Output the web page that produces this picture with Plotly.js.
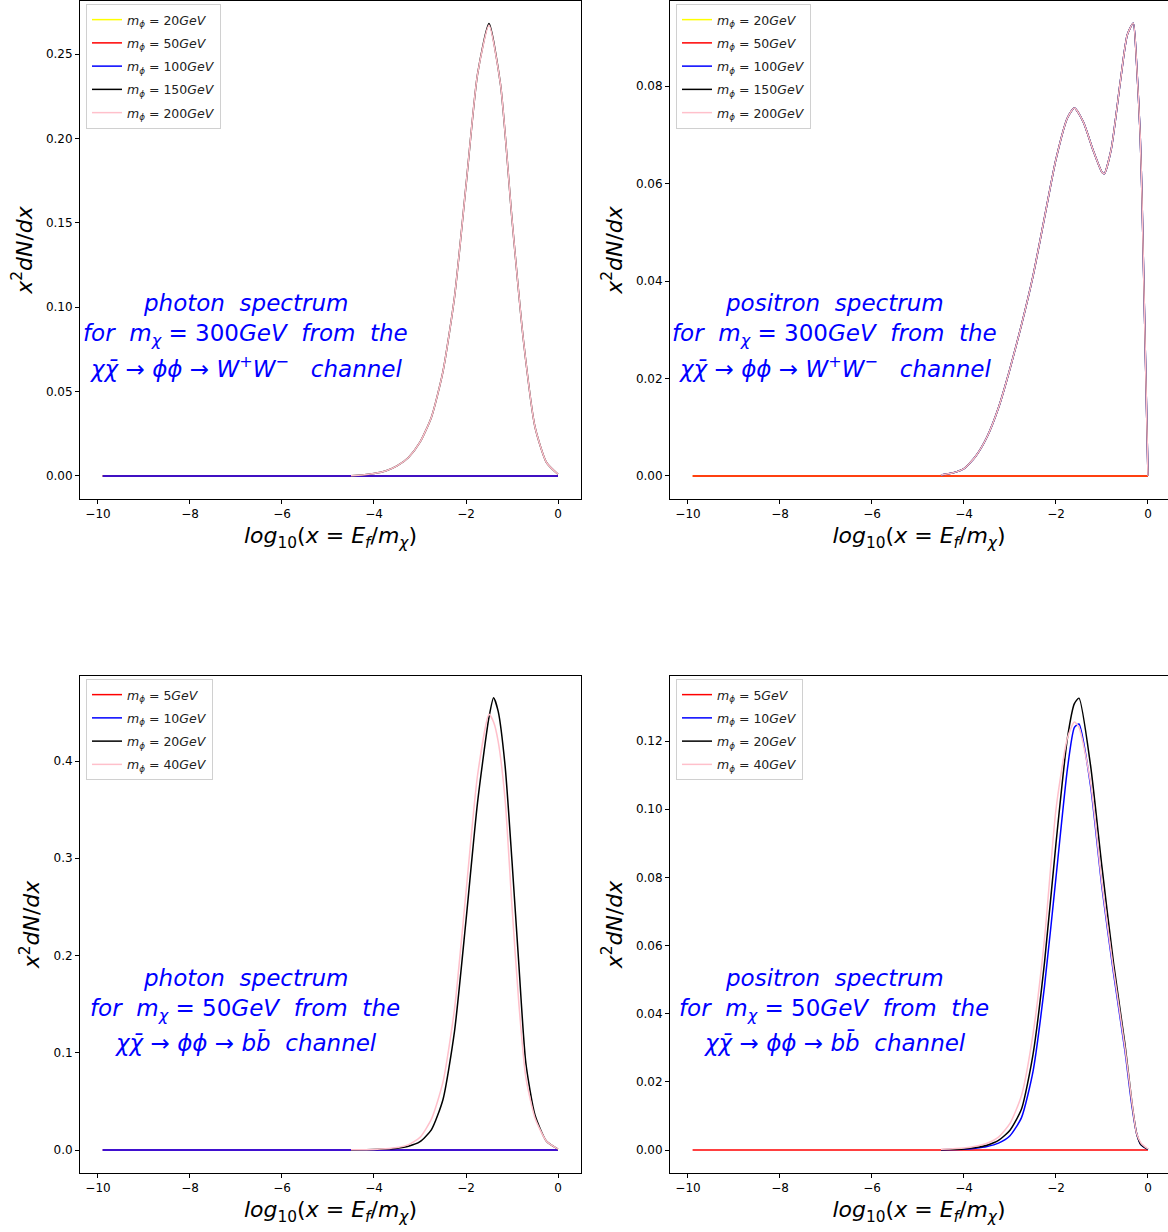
<!DOCTYPE html>
<html>
<head>
<meta charset="utf-8">
<script src="https://cdn.plot.ly/plotly-3.0.1.min.js"></script>
<style>
  html, body { margin: 0; padding: 0; background: #ffffff; }
  #chart { width: 1168px; height: 1232px; }
</style>
</head>
<body>
<div id="chart"></div>
<script>
// ---- log10(x = E_f / m_chi) grids and x^2 dN/dx values ----

// photon spectrum, m_chi = 300 GeV, W+W- channel
const xPhotonWW = [-9.9, -9, -8, -7, -6, -5, -4.5, -4.25, -4, -3.75, -3.5, -3.25, -3, -2.75, -2.5, -2.25, -2, -1.75, -1.5, -1.25, -1, -0.75, -0.5, -0.25, 0];
const photonWW_20  = [0, 0, 0, 0, 0, 0, 0, 0, 0, 0, 0, 0, 0, 0, 0, 0, 0, 0, 0, 0, 0, 0, 0, 0, 0];
const photonWW_50  = [0, 0, 0, 0, 0, 0, 0, 0, 0, 0, 0, 0, 0, 0, 0, 0, 0, 0, 0, 0, 0, 0, 0, 0, 0];
const photonWW_100 = [0, 0, 0, 0, 0, 0, 0, 0, 0, 0, 0, 0, 0, 0, 0, 0, 0, 0, 0, 0, 0, 0, 0, 0, 0];
const photonWW_150 = [null, null, null, null, null, null, 0.0002, 0.0006, 0.0015, 0.003, 0.006, 0.011, 0.02, 0.035, 0.062, 0.106, 0.172, 0.238, 0.268, 0.232, 0.152, 0.08, 0.029, 0.008, 0.001];
const photonWW_200 = [null, null, null, null, null, null, 0.0002, 0.0006, 0.0015, 0.003, 0.006, 0.011, 0.02, 0.035, 0.062, 0.106, 0.172, 0.238, 0.267, 0.232, 0.152, 0.08, 0.029, 0.008, 0.001];

// positron spectrum, m_chi = 300 GeV, W+W- channel
const xPositronWW = [-9.9, -9, -8, -7, -6, -5, -4.5, -4.25, -4, -3.75, -3.5, -3.25, -3, -2.75, -2.5, -2.25, -2, -1.75, -1.6, -1.4, -1.2, -1.0, -0.95, -0.8, -0.6, -0.45, -0.32, -0.25, -0.17, -0.13, 0];
const positronWW_20  = [0, 0, 0, 0, 0, 0, 0, 0, 0, 0, 0, 0, 0, 0, 0, 0, 0, 0, 0, 0, 0, 0, 0, 0, 0, 0, 0, 0, 0, 0, 0];
const positronWW_50  = [0, 0, 0, 0, 0, 0, 0, 0, 0, 0, 0, 0, 0, 0, 0, 0, 0, 0, 0, 0, 0, 0, 0, 0, 0, 0, 0, 0, 0, 0, 0];
const positronWW_100 = [null, null, null, null, null, null, 0.0002, 0.0006, 0.0015, 0.004, 0.008, 0.014, 0.022, 0.031, 0.041, 0.053, 0.065, 0.0735, 0.0755, 0.0725, 0.067, 0.0623, 0.062, 0.067, 0.081, 0.0905, 0.0929, 0.085, 0.07, 0.057, 0];
const positronWW_150 = [null, null, null, null, null, null, 0.0002, 0.0006, 0.0015, 0.004, 0.008, 0.014, 0.022, 0.031, 0.041, 0.053, 0.065, 0.0735, 0.0755, 0.0725, 0.067, 0.0623, 0.062, 0.067, 0.081, 0.0905, 0.0929, 0.085, 0.07, 0.057, 0];
const positronWW_200 = [null, null, null, null, null, null, 0.0002, 0.0006, 0.0015, 0.004, 0.008, 0.014, 0.022, 0.031, 0.041, 0.053, 0.065, 0.0735, 0.0755, 0.0725, 0.067, 0.0623, 0.062, 0.067, 0.081, 0.0905, 0.0929, 0.085, 0.07, 0.057, 0];

// photon spectrum, m_chi = 50 GeV, b bbar channel
const xPhotonBB = [-9.9, -9, -8, -7, -6, -5, -4.5, -4, -3.75, -3.5, -3.25, -3, -2.75, -2.5, -2.25, -2, -1.75, -1.5, -1.4, -1.3, -1.15, -1, -0.85, -0.7, -0.5, -0.25, 0];
const photonBB_5  = [0, 0, 0, 0, 0, 0, 0, 0, 0, 0, 0, 0, 0, 0, 0, 0, 0, 0, 0, 0, 0, 0, 0, 0, 0, 0, 0];
const photonBB_10 = [0, 0, 0, 0, 0, 0, 0, 0, 0, 0, 0, 0, 0, 0, 0, 0, 0, 0, 0, 0, 0, 0, 0, 0, 0, 0, 0];
const photonBB_20 = [null, null, null, null, null, null, 0.0001, 0.0004, 0.0009, 0.0018, 0.0038, 0.0085, 0.021, 0.052, 0.122, 0.236, 0.357, 0.445, 0.465, 0.451, 0.395, 0.297, 0.19, 0.09, 0.036, 0.009, 0.001];
const photonBB_40 = [null, null, null, null, null, null, 0.0002, 0.0006, 0.0012, 0.0025, 0.0055, 0.013, 0.032, 0.07, 0.145, 0.265, 0.385, 0.448, 0.44, 0.42, 0.36, 0.25, 0.15, 0.075, 0.033, 0.009, 0.001];

// positron spectrum, m_chi = 50 GeV, b bbar channel
const xPositronBB = [-9.9, -9, -8, -7, -6, -5, -4.5, -4, -3.75, -3.5, -3.25, -3, -2.75, -2.5, -2.25, -2, -1.75, -1.6, -1.5, -1.25, -1, -0.75, -0.5, -0.35, -0.25, -0.15, 0];
const positronBB_5  = [0, 0, 0, 0, 0, 0, 0, 0, 0, 0, 0, 0, 0, 0, 0, 0, 0, 0, 0, 0, 0, 0, 0, 0, 0, 0, 0];
const positronBB_10 = [null, null, null, null, null, null, 0.0001, 0.0002, 0.0005, 0.001, 0.002, 0.0042, 0.0095, 0.023, 0.048, 0.08, 0.112, 0.124, 0.125, 0.107, 0.077, 0.052, 0.029, 0.013, 0.005, 0.0015, 0.0002];
const positronBB_20 = [null, null, null, null, null, null, 0.0001, 0.0003, 0.0007, 0.0014, 0.0028, 0.0058, 0.012, 0.028, 0.055, 0.09, 0.121, 0.131, 0.1326, 0.113, 0.083, 0.055, 0.031, 0.014, 0.005, 0.0015, 0.0002];
const positronBB_40 = [null, null, null, null, null, null, 0.0002, 0.0006, 0.0011, 0.002, 0.0038, 0.0078, 0.016, 0.034, 0.062, 0.1, 0.121, 0.1256, 0.124, 0.108, 0.078, 0.053, 0.03, 0.014, 0.005, 0.002, 0.0003];

// mediator masses (GeV) and line colours
const massesWW = [20, 50, 100, 150, 200];
const colorsWW = ['yellow', 'red', 'blue', 'black', 'pink'];
const massesBB = [5, 10, 20, 40];
const colorsBB = ['red', 'blue', 'black', 'pink'];

// tick labels
const xTickVals = [-10, -8, -6, -4, -2, 0];
const xTickText = ['\u221210', '\u22128', '\u22126', '\u22124', '\u22122', '0'];
const yTicksPhotonWW = [0, 0.05, 0.10, 0.15, 0.20, 0.25];
const yTicksPositronWW = [0, 0.02, 0.04, 0.06, 0.08];
const yTicksPhotonBB = [0, 0.1, 0.2, 0.3, 0.4];
const yTicksPositronBB = [0, 0.02, 0.04, 0.06, 0.08, 0.10, 0.12];

// in-panel descriptions
const NB = '\u00a0';
const photonWWText = [
  '<i>photon</i>' + NB + NB + '<i>spectrum</i>',
  '<i>for</i>' + NB + NB + '<i>m</i><sub><i>χ</i></sub> = 300<i>GeV</i>' + NB + NB + '<i>from</i>' + NB + NB + '<i>the</i>',
  '<i>χχ\u0304</i> → <i>ϕϕ</i> → <i>W</i><sup>+</sup><i>W</i><sup>−</sup>' + NB + NB + NB + '<i>channel</i>'
];
const positronWWText = [
  '<i>positron</i>' + NB + NB + '<i>spectrum</i>',
  '<i>for</i>' + NB + NB + '<i>m</i><sub><i>χ</i></sub> = 300<i>GeV</i>' + NB + NB + '<i>from</i>' + NB + NB + '<i>the</i>',
  '<i>χχ\u0304</i> → <i>ϕϕ</i> → <i>W</i><sup>+</sup><i>W</i><sup>−</sup>' + NB + NB + NB + '<i>channel</i>'
];
const photonBBText = [
  '<i>photon</i>' + NB + NB + '<i>spectrum</i>',
  '<i>for</i>' + NB + NB + '<i>m</i><sub><i>χ</i></sub> = 50<i>GeV</i>' + NB + NB + '<i>from</i>' + NB + NB + '<i>the</i>',
  '<i>χχ\u0304</i> → <i>ϕϕ</i> → <i>bb\u0304</i>' + NB + NB + '<i>channel</i>'
];
const positronBBText = [
  '<i>positron</i>' + NB + NB + '<i>spectrum</i>',
  '<i>for</i>' + NB + NB + '<i>m</i><sub><i>χ</i></sub> = 50<i>GeV</i>' + NB + NB + '<i>from</i>' + NB + NB + '<i>the</i>',
  '<i>χχ\u0304</i> → <i>ϕϕ</i> → <i>bb\u0304</i>' + NB + NB + '<i>channel</i>'
];

const xTitle = '<i>log</i><sub>10</sub>(<i>x</i> = <i>E</i><sub><i>f</i></sub>/<i>m</i><sub><i>χ</i></sub>)';
const yTitle = '<i>x</i><sup>2</sup><i>dN</i>/<i>dx</i>';

// ---- figure geometry (pixels) ----
const W = 1168, H = 1232;
const FONT = 'DejaVu Sans, Liberation Sans, sans-serif';

function massLabel(m) {
  return '<i>m</i><sub><i>ϕ</i></sub> = ' + m + '<i>GeV</i>';
}

function panelTraces(x, series, masses, colors, xa, ya, legendId) {
  return series.map((y, i) => ({
    type: 'scatter',
    mode: 'lines',
    x: x,
    y: y,
    name: massLabel(masses[i]),
    line: { color: colors[i], width: 1.5, shape: 'spline', smoothing: 0.6 },
    xaxis: xa,
    yaxis: ya,
    legend: legendId,
    legendgroup: legendId + '_' + i,
    connectgaps: false,
    hoverinfo: 'skip'
  }));
}

const traces = [].concat(
  panelTraces(xPhotonWW, [photonWW_20, photonWW_50, photonWW_100, photonWW_150, photonWW_200], massesWW, colorsWW, 'x', 'y', 'legend'),
  panelTraces(xPositronWW, [positronWW_20, positronWW_50, positronWW_100, positronWW_150, positronWW_200], massesWW, colorsWW, 'x2', 'y2', 'legend2'),
  panelTraces(xPhotonBB, [photonBB_5, photonBB_10, photonBB_20, photonBB_40], massesBB, colorsBB, 'x3', 'y3', 'legend3'),
  panelTraces(xPositronBB, [positronBB_5, positronBB_10, positronBB_20, positronBB_40], massesBB, colorsBB, 'x4', 'y4', 'legend4')
);

function xAxis(left, right, range, anchor) {
  return {
    domain: [left / W, right / W],
    range: range,
    anchor: anchor,
    tickvals: xTickVals,
    ticktext: xTickText,
    ticks: 'outside', ticklen: 4, tickwidth: 1, tickcolor: '#000',
    tickfont: { family: FONT, size: 12, color: '#000' },
    showline: true, linecolor: '#000', linewidth: 1, mirror: true,
    showgrid: false, zeroline: false,
    title: { text: xTitle, font: { family: FONT, size: 22, color: '#000' }, standoff: 7 }
  };
}

function yAxis(topPx, bottomPx, range, anchor, ticks, fmt, mirror) {
  return {
    domain: [1 - bottomPx / H, 1 - topPx / H],
    range: range,
    anchor: anchor,
    tickvals: ticks,
    ticktext: ticks.map(v => v.toFixed(fmt)),
    ticks: 'outside', ticklen: 4, tickwidth: 1, tickcolor: '#000',
    tickfont: { family: FONT, size: 12, color: '#000' },
    showline: true, linecolor: '#000', linewidth: 1, mirror: mirror,
    showgrid: false, zeroline: false,
    title: { text: yTitle, font: { family: FONT, size: 22, color: '#000' }, standoff: 7 }
  };
}

function legendAt(leftPx, topPx) {
  return {
    x: leftPx / W, y: 1 - topPx / H,
    xanchor: 'left', yanchor: 'top',
    bgcolor: 'rgba(255,255,255,0.8)',
    bordercolor: '#d0d0d0', borderwidth: 1,
    font: { family: FONT, size: 12.5, color: '#222' },
    traceorder: 'grouped', tracegroupgap: 4,
    itemwidth: 30
  };
}

function textBlock(lines, cxPx, firstYPx) {
  return lines.map((t, i) => ({
    text: t,
    xref: 'paper', yref: 'paper',
    x: cxPx / W, y: 1 - (firstYPx + i * 32) / H,
    xanchor: 'center', yanchor: 'middle',
    showarrow: false,
    font: { family: FONT, size: 23, color: 'blue' }
  }));
}

// x: -10 sits at 98px (left column) / 688px (right column), 46 px per unit
const layout = {
  width: W, height: H,
  margin: { l: 0, r: 0, t: 0, b: 0 },
  paper_bgcolor: '#ffffff', plot_bgcolor: '#ffffff',
  showlegend: true,
  xaxis:  xAxis(80, 581, [-10.391, 0.5], 'y'),
  yaxis:  yAxis(1, 499, [-0.01363, 0.2814], 'x', yTicksPhotonWW, 2, true),
  xaxis2: xAxis(670, 1168, [-10.391, 0.435], 'y2'),
  yaxis2: yAxis(1, 499, [-0.00472, 0.09744], 'x2', yTicksPositronWW, 2, false),
  xaxis3: xAxis(80, 581, [-10.391, 0.5], 'y3'),
  yaxis3: yAxis(676, 1173, [-0.02365, 0.4874], 'x3', yTicksPhotonBB, 1, true),
  xaxis4: xAxis(670, 1168, [-10.391, 0.435], 'y4'),
  yaxis4: yAxis(676, 1173, [-0.00675, 0.1391], 'x4', yTicksPositronBB, 2, false),
  legend:  legendAt(86, 4),
  legend2: legendAt(676, 4),
  legend3: legendAt(86, 679),
  legend4: legendAt(676, 679),
  annotations: [].concat(
    textBlock(photonWWText, 245, 303),
    textBlock(positronWWText, 834, 303),
    textBlock(photonBBText, 245, 978),
    textBlock(positronBBText, 834, 978)
  )
};

Plotly.newPlot('chart', traces, layout, { staticPlot: true, displayModeBar: false });
</script>
</body>
</html>
